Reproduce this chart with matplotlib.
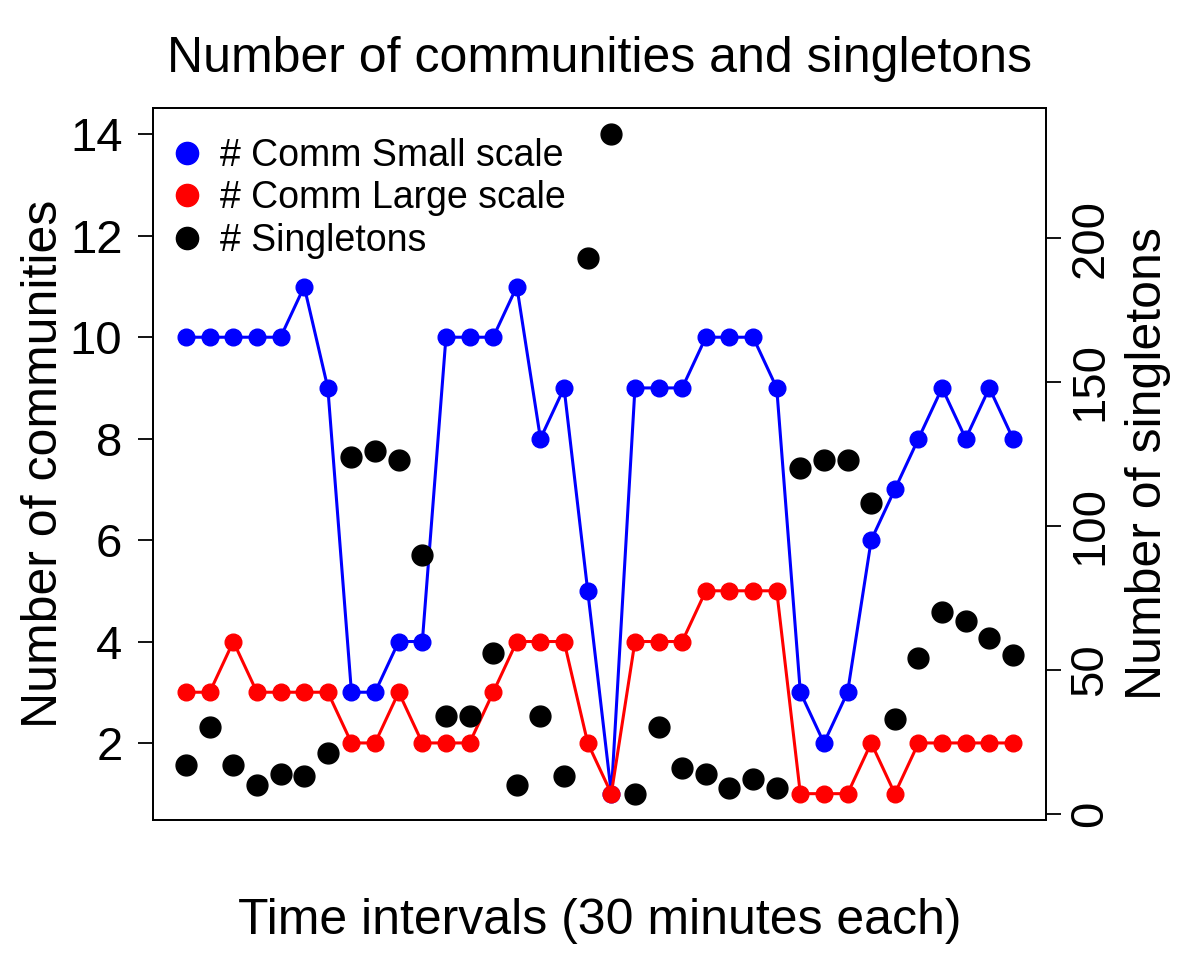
import matplotlib
matplotlib.use('Agg')
import matplotlib.pyplot as plt
from matplotlib.lines import Line2D
import numpy as np

plt.rcParams['font.family'] = ['Liberation Sans', 'DejaVu Sans']

# one value per 30-minute interval
comm_small = [10, 10, 10, 10, 10, 11, 9, 3, 3, 4, 4, 10, 10, 10, 11, 8, 9, 5,
              1, 9, 9, 9, 10, 10, 10, 9, 3, 2, 3, 6, 7, 8, 9, 8, 9, 8]
comm_large = [3, 3, 4, 3, 3, 3, 3, 2, 2, 3, 2, 2, 2, 3, 4, 4, 4, 2,
              1, 4, 4, 4, 5, 5, 5, 5, 1, 1, 1, 2, 1, 2, 2, 2, 2, 2]
singletons = [17, 30, 17, 10, 14, 13, 21, 124, 126, 123, 90, 34, 34, 56, 10, 34, 13, 193,
              236, 7, 30, 16, 14, 9, 12, 9, 120, 123, 123, 108, 33, 54, 70, 67, 61, 55]
comm_limits = [1, 14]
left_ticks = [2, 4, 6, 8, 10, 12, 14]
right_ticks = [0, 50, 100, 150, 200]

x = np.arange(1, len(comm_small) + 1)


def r_range(lo, hi):
    # R-style 4% padding on each side
    d = (hi - lo) * 0.04
    return lo - d, hi + d


fig = plt.figure(figsize=(12, 9.59), dpi=100)
ax = fig.add_axes([0.1275, 0.1449, 0.7442, 0.7425])

ax.plot(x, comm_small, '-o', color='blue', lw=2.2, ms=12, zorder=3)
ax.plot(x, comm_large, '-o', color='red', lw=2.2, ms=12, zorder=3)
ax.set_xlim(*r_range(1, len(x)))
ax.set_ylim(*r_range(*comm_limits))
ax.set_xticks([])
ax.set_yticks(left_ticks)
ax.tick_params(axis='y', labelsize=34, length=11, width=1.3, pad=11)
ax.set_ylabel('Number of communities', fontsize=36, labelpad=2)
ax.set_xlabel('Time intervals (30 minutes each)', fontsize=36, labelpad=56)
ax.set_title('Number of communities and singletons', fontsize=36, pad=26)
for s in ax.spines.values():
    s.set_linewidth(1.3)

ax2 = ax.twinx()
ax2.plot(x, singletons, 'o', color='black', ms=15, zorder=4)
ax2.set_ylim(*r_range(min(singletons), max(singletons)))
ax2.set_yticks(right_ticks)
ax2.set_yticklabels([str(t) for t in right_ticks], rotation=90, va='center')
ax2.tick_params(axis='y', labelsize=34, length=11, width=1.3, pad=5)
ax2.set_ylabel('Number of singletons', fontsize=36, labelpad=9)
for s in ax2.spines.values():
    s.set_linewidth(1.3)

handles = [Line2D([], [], ls='none', marker='o', color=c, ms=16) for c in ['blue', 'red', 'black']]
ax.legend(handles, ['# Comm Small scale', '# Comm Large scale', '# Singletons'],
          loc='upper left', bbox_to_anchor=(0, 1 - 15 / 712), frameon=False, fontsize=27,
          handlelength=1.0, handletextpad=0.39, labelspacing=0.17, borderpad=0.4,
          borderaxespad=0)

fig.savefig('out.png', dpi=100)
